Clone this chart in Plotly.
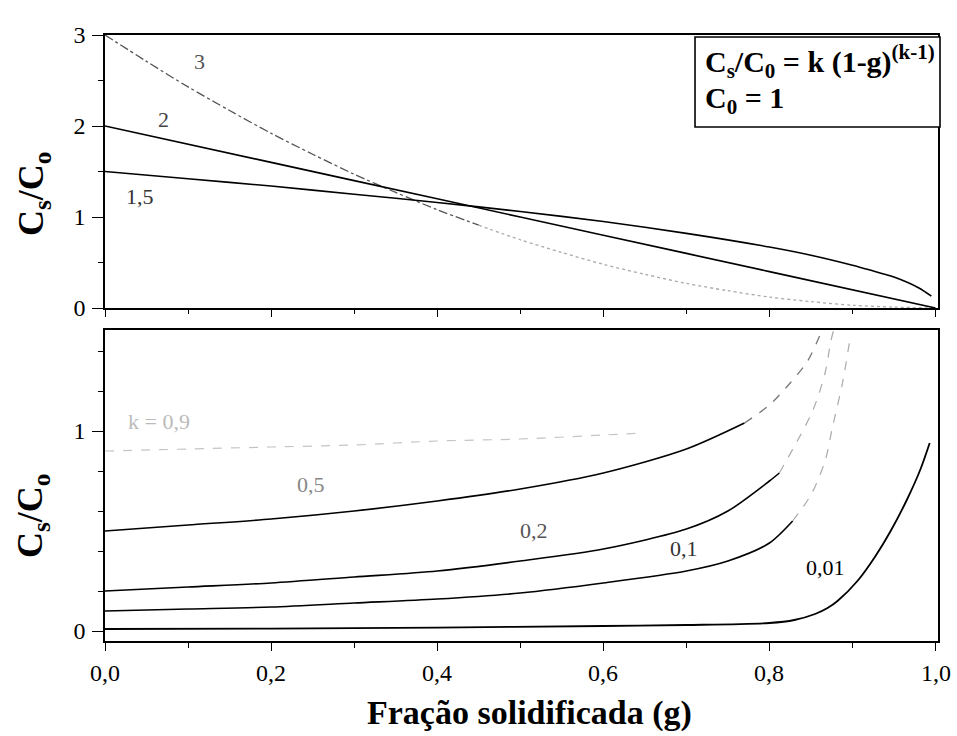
import plotly.graph_objects as go

# ---------------- data ----------------
x_ticks = [0.0, 0.2, 0.4, 0.6, 0.8, 1.0]
x_ticktext = ["0,0", "0,2", "0,4", "0,6", "0,8", "1,0"]
top_y_ticks = [0, 1, 2, 3]
top_y_ticktext = ["0", "1", "2", "3"]
bot_y_ticks = [0, 1]
bot_y_ticktext = ["0", "1"]

# upper panel (k > 1)
g_k3 = [0, 0.05, 0.1, 0.15, 0.2, 0.25, 0.3, 0.35, 0.4, 0.45, 0.5, 0.55, 0.6, 0.65, 0.7, 0.75, 0.8, 0.85, 0.9, 0.95, 1.0]
c_k3 = [3.00, 2.71, 2.43, 2.17, 1.92, 1.69, 1.47, 1.27, 1.08, 0.91, 0.75, 0.61, 0.48, 0.37, 0.27, 0.19, 0.12, 0.07, 0.03, 0.01, 0.00]
g_k2 = [0.0, 0.2, 0.4, 0.6, 0.8, 1.0]
c_k2 = [2.0, 1.6, 1.2, 0.8, 0.4, 0.0]
g_k15 = [0.0, 0.1, 0.2, 0.3, 0.4, 0.5, 0.6, 0.7, 0.8, 0.85, 0.9, 0.92, 0.95, 0.98, 0.995]
c_k15 = [1.50, 1.42, 1.34, 1.25, 1.16, 1.06, 0.95, 0.82, 0.67, 0.58, 0.47, 0.42, 0.34, 0.22, 0.13]

# lower panel (k < 1)
g_k09 = [0.0, 0.1, 0.2, 0.3, 0.4, 0.5, 0.6, 0.65]
c_k09 = [0.90, 0.91, 0.92, 0.93, 0.95, 0.96, 0.98, 0.99]
g_k05 = [0.0, 0.1, 0.2, 0.3, 0.4, 0.5, 0.6, 0.7, 0.77, 0.8, 0.825, 0.846, 0.862]
c_k05 = [0.50, 0.53, 0.56, 0.60, 0.65, 0.71, 0.79, 0.91, 1.04, 1.13, 1.24, 1.35, 1.49]
g_k02 = [0.0, 0.1, 0.2, 0.3, 0.4, 0.5, 0.6, 0.7, 0.75, 0.8, 0.812, 0.852, 0.867, 0.874, 0.877]
c_k02 = [0.20, 0.22, 0.24, 0.27, 0.30, 0.35, 0.41, 0.51, 0.60, 0.75, 0.79, 1.10, 1.29, 1.45, 1.50]
g_k01 = [0.0, 0.1, 0.2, 0.3, 0.4, 0.5, 0.6, 0.7, 0.75, 0.8, 0.828, 0.85, 0.867, 0.876, 0.888, 0.897]
c_k01 = [0.10, 0.11, 0.12, 0.14, 0.16, 0.19, 0.24, 0.30, 0.35, 0.44, 0.55, 0.68, 0.85, 1.02, 1.24, 1.46]
g_k001 = [0.0, 0.2, 0.4, 0.6, 0.7, 0.8, 0.83, 0.855, 0.87, 0.882, 0.906, 0.927, 0.946, 0.966, 0.982, 0.993]
c_k001 = [0.010, 0.012, 0.017, 0.025, 0.03, 0.04, 0.055, 0.085, 0.115, 0.15, 0.25, 0.37, 0.50, 0.66, 0.81, 0.94]

# curve labels: (text, g, value, colour)
top_labels = [("3", 0.114, 2.71, "#555555"), ("2", 0.07, 2.07, "#444444"), ("1,5", 0.042, 1.22, "#333333")]
bot_labels = [("k = 0,9", 0.065, 1.05, "#bbbbbb"), ("0,5", 0.248, 0.735, "#888888"),
              ("0,2", 0.517, 0.505, "#555555"), ("0,1", 0.697, 0.415, "#333333"),
              ("0,01", 0.868, 0.32, "#000000")]

FONT = "Liberation Serif"
fig = go.Figure()


def line(x, y, ax, color="black", width=1.6, dash="solid"):
    xa, ya = ("x2", "y2") if ax == "top" else ("x", "y")
    fig.add_trace(go.Scatter(x=x, y=y, mode="lines", xaxis=xa, yaxis=ya, showlegend=False,
                             hoverinfo="skip",
                             line=dict(color=color, width=width, dash=dash, shape="spline", smoothing=0.8)))


# top panel
line(g_k3[:10], c_k3[:10], "top", "#555555", 1.3, "dashdot")
line(g_k3[9:], c_k3[9:], "top", "#aaaaaa", 1.3, "dot")
line(g_k2, c_k2, "top")
line(g_k15, c_k15, "top")

# bottom panel
line(g_k09, c_k09, "bot", "#c4c4c4", 1.2, "dash")
line(g_k05[:9], c_k05[:9], "bot")
line(g_k05[8:], c_k05[8:], "bot", "#777777", 1.3, "dash")
line(g_k02[:11], c_k02[:11], "bot")
line(g_k02[10:], c_k02[10:], "bot", "#aaaaaa", 1.2, "dash")
line(g_k01[:11], c_k01[:11], "bot")
line(g_k01[10:], c_k01[10:], "bot", "#aaaaaa", 1.2, "dash")
line(g_k001, c_k001, "bot", "black", 1.8)

axis_common = dict(showline=True, linecolor="black", linewidth=1.5, mirror=True,
                   showgrid=False, zeroline=False, ticks="outside", tickcolor="black",
                   tickwidth=1.3, tickfont=dict(family=FONT, size=24, color="black"))

annotations = []
for t, gx, gy, col in top_labels:
    annotations.append(dict(text=t, x=gx, y=gy, xref="x2", yref="y2", showarrow=False,
                            font=dict(family=FONT, size=22, color=col)))
for t, gx, gy, col in bot_labels:
    annotations.append(dict(text=t, x=gx, y=gy, xref="x", yref="y", showarrow=False,
                            font=dict(family=FONT, size=22, color=col)))

# x tick labels (placed as text at the tick values)
for tv, tt in zip(x_ticks, x_ticktext):
    annotations.append(dict(text=tt, x=tv, y=-0.0528, xref="x", yref="paper", showarrow=False,
                            xanchor="center", yanchor="middle",
                            font=dict(family=FONT, size=24, color="black")))

# axis titles
annotations.append(dict(text="<b>Fração solidificada (g)</b>", x=0.51, y=-0.118, xref="paper", yref="paper",
                        showarrow=False, xanchor="center", yanchor="middle",
                        font=dict(family=FONT, size=34, color="black")))
for yy in [0.7376, 0.2063]:
    annotations.append(dict(text="<b>C<sub>s</sub>/C<sub>o</sub></b>", x=-0.0864, y=yy,
                            xref="paper", yref="paper", showarrow=False, textangle=-90,
                            xanchor="center", yanchor="middle",
                            font=dict(family=FONT, size=36, color="black")))

# equation box text
annotations.append(dict(text="<b>C<sub>s</sub>/C<sub>0</sub> = k (1-g)<sup>(k-1)</sup></b>",
                        x=0.7179, y=0.957, xref="paper", yref="paper", showarrow=False,
                        xanchor="left", yanchor="middle", font=dict(family=FONT, size=30, color="black")))
annotations.append(dict(text="<b>C<sub>0</sub> = 1</b>",
                        x=0.7179, y=0.8925, xref="paper", yref="paper", showarrow=False,
                        xanchor="left", yanchor="middle", font=dict(family=FONT, size=30, color="black")))

fig.update_layout(
    width=957, height=736,
    margin=dict(l=105, r=19, t=35, b=95),
    paper_bgcolor="white", plot_bgcolor="white",
    xaxis=dict(domain=[0, 1], range=[0, 1.003], anchor="y", tickvals=x_ticks, showticklabels=False,
               ticklen=8,
               minor=dict(tickvals=[0.1, 0.3, 0.5, 0.7, 0.9], ticklen=5, ticks="outside", tickcolor="black"),
               **axis_common),
    xaxis2=dict(domain=[0, 1], range=[0, 1.003], anchor="y2", tickvals=x_ticks, showticklabels=False,
                ticklen=7, minor=dict(tickvals=[0.1, 0.3, 0.5, 0.7, 0.9], ticklen=4, ticks="outside", tickcolor="black"),
                **axis_common),
    yaxis=dict(domain=[0, 0.5132], range=[-0.05, 1.505], anchor="x", tickvals=bot_y_ticks,
               ticktext=bot_y_ticktext, ticklen=11, ticklabelstandoff=2,
               minor=dict(tickvals=[0.2, 0.4, 0.6, 0.8, 1.2, 1.4], ticklen=5, ticks="outside", tickcolor="black"),
               **axis_common),
    yaxis2=dict(domain=[0.5495, 1], range=[0, 3], anchor="x2", tickvals=top_y_ticks,
                ticktext=top_y_ticktext, ticklen=11, ticklabelstandoff=2,
                minor=dict(tickvals=[0.5, 1.5, 2.5], ticklen=5, ticks="outside", tickcolor="black"),
                **axis_common),
    shapes=[dict(type="rect", xref="paper", yref="paper", x0=0.7083, x1=1.0024, y0=0.8482, y1=0.9967,
                 line=dict(color="black", width=1.6), fillcolor="white", layer="above")],
    annotations=annotations,
)

fig.write_html("out.html")
